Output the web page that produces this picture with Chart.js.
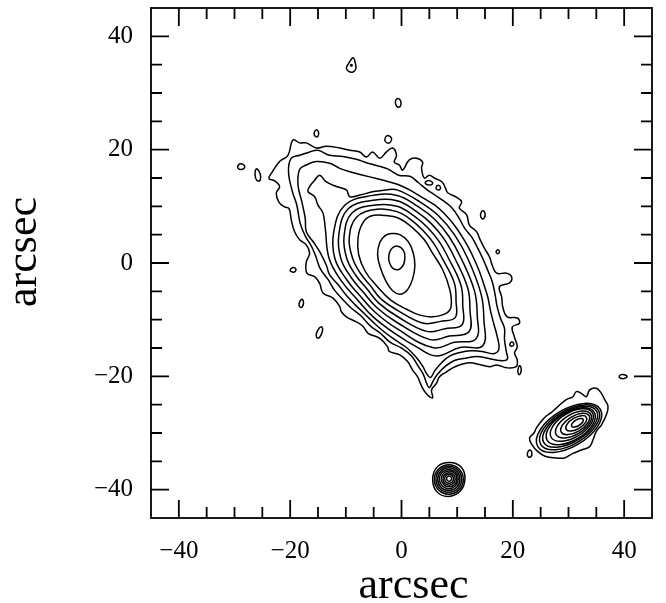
<!DOCTYPE html>
<html>
<head>
<meta charset="utf-8">
<title>arcsec contour map</title>
<script src="https://cdn.jsdelivr.net/npm/chart.js@4.4.1/dist/chart.umd.min.js"></script>
<style>
  html, body { margin: 0; padding: 0; background: #fff; }
  canvas { display: block; }
</style>
</head>
<body>
<canvas id="contourChart" width="666" height="603"></canvas>
<script>
// Axis range and tick values (arcsec)
const axisMin = -45;
const axisMax = 45;
const majorTickValues = [-40, -20, 0, 20, 40];
const minorTickValues = [-40, -35, -30, -25, -20, -15, -10, -5, 0, 5, 10, 15, 20, 25, 30, 35, 40];
const axisTitle = 'arcsec';

// Main galaxy, outermost level first (x, y in arcsec)
const galaxy1 = [[-19.5,21.7],[-18.3,21.2],[-17.1,21.2],[-15.3,20.3],[-13.5,20.6],[-11.1,20.3],[-9.3,19.9],[-7.5,19.6],[-6.3,18.7],[-5.2,19.6],[-3.9,18.5],[-2.7,19.6],[-1.6,20.3],[-0.9,19.0],[-1.3,17.8],[-0.4,17.3],[0.2,16.4],[1.4,18.2],[2.7,18.5],[3.8,17.8],[3.6,16.8],[4.1,15.0],[5.0,15.5],[5.9,15.0],[7.3,14.3],[7.9,13.2],[8.3,12.4],[9.9,11.6],[10.8,10.8],[10.4,9.7],[11.7,8.5],[12.2,6.7],[13.5,5.5],[14.0,4.4],[14.9,2.6],[15.8,1.1],[16.3,-0.4],[17.1,-1.8],[18.9,-1.8],[19.8,-2.5],[19.4,-3.5],[17.6,-4.2],[18.0,-6.0],[18.2,-7.8],[19.0,-9.5],[20.8,-9.7],[21.2,-10.6],[19.9,-11.3],[20.3,-13.1],[20.8,-14.8],[20.3,-15.9],[20.8,-17.1],[20.6,-18.3],[18.9,-18.5],[17.1,-18.0],[15.8,-18.3],[14.0,-17.9],[12.2,-17.6],[10.4,-18.0],[9.2,-18.5],[8.1,-19.2],[6.8,-20.1],[6.3,-21.2],[5.4,-22.4],[5.6,-23.8],[4.4,-23.0],[3.5,-21.5],[2.9,-20.1],[2.0,-18.9],[1.1,-17.4],[-0.3,-16.2],[-2.2,-15.6],[-2.5,-14.8],[-3.9,-13.3],[-6.0,-12.4],[-6.9,-11.2],[-8.1,-10.4],[-9.9,-9.5],[-10.8,-8.6],[-11.1,-7.7],[-12.3,-6.2],[-14.1,-5.3],[-14.7,-3.6],[-15.6,-2.4],[-17.0,-1.8],[-17.1,0.2],[-16.5,1.7],[-17.1,3.2],[-18.3,4.1],[-19.2,5.5],[-19.8,7.6],[-20.2,9.6],[-21.0,9.9],[-22.0,10.7],[-22.5,12.3],[-21.9,13.5],[-22.8,14.5],[-23.8,14.9],[-23.4,15.8],[-21.9,17.9],[-20.4,19.0]];
const galaxy2 = [[-19.8,18.5],[-18.3,19.0],[-16.5,19.6],[-15.0,19.9],[-12.9,19.0],[-10.5,18.8],[-8.1,18.3],[-6.3,17.7],[-4.5,17.2],[-2.5,16.6],[-0.5,15.5],[1.5,15.3],[3.0,14.2],[4.5,13.0],[6.0,12.0],[7.5,11.0],[9.0,9.8],[10.3,8.0],[11.3,6.2],[12.6,4.6],[13.6,2.8],[14.6,0.8],[15.5,-1.3],[16.3,-3.3],[16.8,-5.5],[17.2,-7.8],[17.8,-9.8],[18.5,-11.5],[18.5,-13.5],[18.8,-15.5],[19.0,-17.0],[17.5,-17.2],[15.5,-16.8],[13.5,-16.5],[11.5,-16.8],[9.5,-17.2],[7.8,-18.3],[6.5,-19.6],[5.7,-20.8],[5.0,-22.0],[4.5,-21.2],[3.9,-19.6],[3.0,-18.2],[1.8,-16.4],[0.0,-15.0],[-2.0,-14.0],[-3.8,-12.4],[-5.6,-11.1],[-7.3,-9.3],[-9.1,-7.9],[-10.6,-6.4],[-12.1,-4.7],[-13.2,-2.9],[-14.6,-1.0],[-15.4,1.2],[-16.2,3.0],[-17.3,4.8],[-18.2,7.0],[-18.8,10.2],[-19.6,12.6],[-20.3,16.1]];
const galaxy3 = [[-18.3,16.5],[-17.1,17.3],[-15.3,17.9],[-12.9,17.6],[-11.1,16.7],[-9.3,16.1],[-6.9,15.5],[-4.5,14.9],[-2.2,14.3],[0.0,13.6],[2.0,12.6],[4.0,11.4],[6.0,10.2],[7.8,8.6],[9.4,6.8],[10.8,4.8],[12.0,2.8],[13.0,0.8],[14.0,-1.5],[14.8,-3.8],[15.5,-6.0],[16.0,-8.5],[16.6,-10.8],[17.2,-13.0],[17.5,-15.2],[16.5,-16.0],[14.5,-15.6],[12.5,-15.5],[10.5,-15.8],[8.7,-16.4],[7.2,-17.6],[6.0,-19.0],[5.2,-20.2],[4.5,-19.5],[3.8,-18.2],[2.6,-16.6],[1.0,-15.0],[-0.8,-13.8],[-2.8,-12.4],[-4.7,-10.8],[-6.6,-9.0],[-8.4,-7.3],[-10.0,-5.6],[-11.4,-3.8],[-12.9,-2.1],[-13.5,-0.4],[-14.7,2.0],[-15.9,3.8],[-17.1,5.5],[-17.3,7.9],[-17.9,10.8],[-18.6,13.8]];
const galaxy4 = [[-14.7,15.5],[-13.5,14.3],[-11.7,13.5],[-9.9,12.9],[-9.3,11.7],[-7.5,12.0],[-5.0,12.6],[-2.8,12.9],[-0.8,12.9],[3.3,10.8],[6.7,8.3],[9.5,5.0],[11.9,0.8],[14.3,-5.5],[14.8,-10.0],[14.6,-14.6],[10.5,-14.9],[6.3,-16.4],[2.7,-14.8],[-0.8,-12.7],[-5.1,-9.5],[-8.0,-6.4],[-10.7,-3.3],[-13.0,0.8],[-13.7,6.2],[-14.1,8.8],[-15.0,10.2],[-15.6,11.7],[-16.8,12.6],[-16.5,13.5],[-15.6,14.6]];
const galaxy5 = [[-0.8,11.93],[3.0,9.95],[6.04,7.64],[8.53,4.67],[10.73,0.8],[13.12,-4.97],[13.6,-9.2],[13.39,-13.39],[9.5,-14.0],[5.74,-14.97],[-0.8,-11.6],[-4.73,-8.69],[-7.42,-5.82],[-9.84,-2.95],[-11.97,0.8],[-12.17,5.51],[-10.2,10.2],[-5.4,11.89]];
const galaxy6 = [[-0.8,10.98],[2.65,9.12],[5.35,6.95],[7.61,4.29],[9.6,0.8],[11.91,-4.47],[12.3,-8.3],[12.14,-12.14],[8.6,-12.9],[5.14,-13.52],[-0.8,-10.5],[-4.4,-7.89],[-6.81,-5.21],[-9.01,-2.6],[-10.9,0.8],[-11.24,5.13],[-9.57,9.57],[-5.05,11.06]];
const galaxy7 = [[-0.8,10.02],[2.3,8.28],[4.67,6.27],[6.68,3.9],[8.47,0.8],[10.69,-3.96],[11.0,-7.5],[10.89,-10.89],[7.8,-11.6],[4.54,-12.07],[-0.8,-9.4],[-4.07,-7.08],[-6.19,-4.59],[-8.16,-2.25],[-9.83,0.8],[-10.32,4.74],[-8.86,8.86],[-4.71,10.22]];
const galaxy8 = [[-0.8,9.06],[1.96,7.45],[3.99,5.59],[5.76,3.52],[7.33,0.8],[9.47,-3.46],[9.8,-6.8],[9.64,-9.64],[7.0,-10.3],[3.94,-10.63],[-0.8,-8.3],[-3.74,-6.29],[-5.59,-3.99],[-7.32,-1.9],[-8.77,0.8],[-9.39,4.36],[-8.08,8.08],[-4.4,9.49]];
const galaxy9 = [[4.1,4.1],[5.6,1.7],[7.4,-1.2],[8.7,-4.8],[8.9,-7.7],[8.0,-8.9],[5.6,-9.5],[3.3,-9.2],[1.0,-8.2],[-2.0,-6.5],[-4.5,-4.0],[-6.5,-1.5],[-7.7,1.5],[-7.8,4.5],[-7.0,7.0],[-5.5,8.3],[-3.0,8.4],[-0.5,7.9],[2.0,6.2]];
const galaxy10 = [[-1.8,5.2],[-0.3,5.0],[1.2,3.8],[2.1,1.8],[2.4,-0.5],[2.0,-2.8],[1.0,-4.8],[-0.3,-5.5],[-1.6,-4.9],[-2.8,-3.2],[-3.8,-0.8],[-4.3,1.5],[-3.9,3.6],[-3.0,4.8]];
const galaxy11 = [[-0.9,3.0],[-0.1,2.7],[0.5,1.9],[0.6,0.9],[0.4,-0.2],[-0.2,-1.0],[-0.9,-1.2],[-1.6,-0.9],[-2.1,-0.1],[-2.3,0.9],[-2.1,2.0],[-1.6,2.7]];

// Companion galaxy at lower right, innermost level first
const companion1 = [[32.64,-27.6],[32.14,-27.44],[31.33,-27.72],[30.67,-28.29],[30.56,-28.8],[31.06,-28.96],[31.88,-28.68],[32.53,-28.11]];
const companion2 = [[33.22,-27.25],[32.33,-26.94],[30.9,-27.43],[29.76,-28.43],[29.58,-29.35],[30.47,-29.66],[31.9,-29.17],[33.04,-28.17]];
const companion3 = [[33.71,-26.95],[32.48,-26.52],[30.5,-27.19],[28.93,-28.57],[28.69,-29.85],[29.92,-30.28],[31.9,-29.61],[33.47,-28.23]];
const companion4 = [[34.02,-26.7],[32.47,-26.12],[30.0,-26.94],[28.06,-28.67],[27.78,-30.3],[29.33,-30.88],[31.8,-30.06],[33.74,-28.33]];
const companion5 = [[34.32,-26.45],[32.45,-25.73],[29.5,-26.69],[27.19,-28.78],[26.88,-30.75],[28.75,-31.47],[31.7,-30.51],[34.01,-28.42]];
const companion6 = [[34.64,-26.35],[32.51,-25.53],[29.15,-26.63],[26.52,-29.0],[26.16,-31.25],[28.29,-32.07],[31.65,-30.97],[34.28,-28.6]];
const companion7 = [[35.06,-26.15],[32.71,-25.3],[28.95,-26.56],[25.98,-29.2],[25.54,-31.65],[27.89,-32.5],[31.65,-31.24],[34.62,-28.6]];
const companion8 = [[35.4,-26.0],[32.81,-25.04],[28.7,-26.4],[25.47,-29.29],[25.0,-32.0],[27.59,-32.96],[31.7,-31.6],[34.93,-28.71]];
const companion9 = [[35.73,-25.85],[32.91,-24.78],[28.45,-26.24],[24.95,-29.38],[24.47,-32.35],[27.29,-33.42],[31.75,-31.96],[35.25,-28.82]];
const companion10 = [[26.9,-26.4],[27.8,-25.6],[29.6,-24.1],[30.8,-23.6],[31.4,-22.7],[32.3,-23.0],[33.2,-23.6],[33.8,-22.4],[35.0,-22.1],[35.9,-23.0],[36.5,-24.1],[37.1,-25.3],[36.8,-26.8],[35.9,-28.6],[35.0,-29.7],[34.4,-31.2],[33.8,-32.4],[32.3,-33.0],[30.8,-33.6],[29.3,-34.4],[27.8,-34.4],[25.8,-34.1],[24.4,-33.2],[23.4,-32.0],[23.0,-30.9],[23.8,-30.0],[24.2,-29.2],[24.9,-28.2],[25.9,-27.1]];

// Star near the bottom, innermost level first
const star1 = [[9.0,-38.05],[8.87,-37.73],[8.55,-37.6],[8.23,-37.73],[8.1,-38.05],[8.23,-38.37],[8.55,-38.5],[8.87,-38.37]];
const star2 = [[9.35,-38.08],[9.12,-37.51],[8.55,-37.28],[7.98,-37.51],[7.75,-38.08],[7.98,-38.65],[8.55,-38.88],[9.12,-38.65]];
const star3 = [[9.65,-38.1],[9.33,-37.32],[8.55,-37.0],[7.77,-37.32],[7.45,-38.1],[7.77,-38.88],[8.55,-39.2],[9.33,-38.88]];
const star4 = [[9.95,-38.1],[9.54,-37.11],[8.55,-36.7],[7.56,-37.11],[7.15,-38.1],[7.56,-39.09],[8.55,-39.5],[9.54,-39.09]];
const star5 = [[10.2,-38.12],[9.7,-36.92],[8.5,-36.42],[7.3,-36.92],[6.8,-38.12],[7.3,-39.32],[8.5,-39.82],[9.7,-39.32]];
const star6 = [[10.5,-38.15],[9.91,-36.74],[8.5,-36.15],[7.09,-36.74],[6.5,-38.15],[7.09,-39.56],[8.5,-40.15],[9.91,-39.56]];
const star7 = [[10.8,-38.15],[10.13,-36.52],[8.5,-35.85],[6.87,-36.52],[6.2,-38.15],[6.87,-39.78],[8.5,-40.45],[10.13,-39.78]];
const star8 = [[11.1,-38.2],[10.34,-36.36],[8.5,-35.6],[6.66,-36.36],[5.9,-38.2],[6.66,-40.04],[8.5,-40.8],[10.34,-40.04]];
const star9 = [[11.4,-38.0],[10.7,-36.0],[8.7,-35.2],[6.5,-35.9],[5.6,-38.0],[6.3,-40.3],[8.4,-41.2],[10.6,-40.2]];

// Small isolated knots
const knotTop = [[-8.7,36.2],[-8.3,35.3],[-8.2,34.3],[-8.7,33.7],[-9.5,33.8],[-9.9,34.4],[-9.5,35.2]];
const knotTopDot = [[-8.85,34.9],[-9.0,35.05],[-9.15,34.9],[-9.0,34.75]];
const knotA = [[-0.8,29.0],[-0.2,28.7],[-0.1,28.0],[-0.4,27.5],[-0.9,27.7],[-1.1,28.4]];
const knotB = [[-2.4,22.5],[-1.8,22.0],[-2.0,21.3],[-2.6,21.2],[-3.0,21.7],[-2.8,22.3]];
const knotC = [[-15.3,23.5],[-14.9,23.1],[-15.0,22.4],[-15.4,22.3],[-15.7,22.8]];
const knotD = [[-28.8,17.5],[-28.2,17.2],[-28.3,16.7],[-28.9,16.5],[-29.4,16.8],[-29.3,17.3]];
const knotE = [[-26.1,16.6],[-25.6,16.2],[-25.3,15.2],[-25.5,14.5],[-26.0,14.6],[-26.3,15.5]];
const knotF = [[-19.5,-0.8],[-19.0,-1.0],[-19.1,-1.5],[-19.6,-1.6],[-20.0,-1.3]];
const knotG = [[-17.9,-6.4],[-17.6,-6.9],[-17.8,-7.7],[-18.2,-7.8],[-18.4,-7.2]];
const knotH = [[-14.3,-11.3],[-14.2,-12.0],[-14.7,-13.1],[-15.2,-13.2],[-15.3,-12.5],[-14.8,-11.5]];
const knotI = [[4.3,14.3],[4.85,14.55],[5.5,14.3],[5.55,13.95],[5.0,13.75],[4.35,13.95]];
const knotJ = [[6.6,13.7],[7.0,13.35],[6.85,12.95],[6.4,12.95],[6.2,13.3]];
const knotK = [[14.6,9.2],[15.0,8.8],[14.9,8.0],[14.5,7.8],[14.2,8.3],[14.3,8.9]];
const knotL = [[17.3,2.35],[17.6,2.0],[17.3,1.65],[17.0,2.0]];
const knotM = [[19.8,-13.95],[20.15,-14.2],[20.05,-14.6],[19.6,-14.65],[19.45,-14.35]];
const knotN = [[21.2,-18.1],[21.5,-18.6],[21.4,-19.4],[21.1,-19.7],[20.9,-19.2],[21.0,-18.5]];
const knotO = [[39.1,-20.0],[39.5,-19.7],[40.3,-19.8],[40.5,-20.1],[40.0,-20.4],[39.3,-20.3]];
const knotP = [[23.0,-33.0],[23.4,-33.4],[23.3,-34.1],[22.8,-34.2],[22.6,-33.7]];

const contours = [
  galaxy1, galaxy2, galaxy3, galaxy4, galaxy5, galaxy6, galaxy7, galaxy8, galaxy9, galaxy10, galaxy11,
  companion1, companion2, companion3, companion4, companion5, companion6, companion7, companion8, companion9, companion10,
  star1, star2, star3, star4, star5, star6, star7, star8, star9,
  knotTop, knotTopDot, knotA, knotB, knotC, knotD, knotE, knotF, knotG, knotH, knotI, knotJ, knotK, knotL, knotM, knotN, knotO, knotP
];

const TEXT_FONT = 'Liberation Serif';

// minus sign like the original plot
function formatTick(value) {
  return value < 0 ? '\u2212' + Math.abs(value) : String(value);
}

// contours are closed curves: make the line element join its last point back to the first
const closeContours = {
  id: 'closeContours',
  beforeDatasetsDraw(chart) {
    chart.getSortedVisibleDatasetMetas().forEach(meta => {
      const line = meta.dataset;
      if (!line) return;
      line._loop = true;
      line._fullLoop = true;
      line._pointsUpdated = false;
      delete line._segments;
      line._path = undefined;
    });
  }
};

// box around the plot with inward ticks on all four sides, plus the axis titles
const frameAndTicks = {
  id: 'frameAndTicks',
  afterDraw(chart) {
    const {ctx, chartArea: a, scales: {x, y}} = chart;
    ctx.save();
    ctx.strokeStyle = '#000';
    ctx.lineWidth = 1.8;
    ctx.strokeRect(a.left, a.top, a.right - a.left, a.bottom - a.top);
    ctx.beginPath();
    minorTickValues.forEach(v => {
      const len = majorTickValues.includes(v) ? 18 : 11;
      const px = x.getPixelForValue(v);
      const py = y.getPixelForValue(v);
      ctx.moveTo(px, a.bottom); ctx.lineTo(px, a.bottom - len);
      ctx.moveTo(px, a.top); ctx.lineTo(px, a.top + len);
      ctx.moveTo(a.left, py); ctx.lineTo(a.left + len, py);
      ctx.moveTo(a.right, py); ctx.lineTo(a.right - len, py);
    });
    ctx.stroke();

    // titles sit a little off-centre in the original
    ctx.fillStyle = '#000';
    ctx.font = '44px "' + TEXT_FONT + '"';
    ctx.textAlign = 'center';
    ctx.textBaseline = 'alphabetic';
    ctx.fillText(axisTitle, (a.left + a.right) / 2 + 12, a.bottom + 80);
    ctx.translate(a.left - 115, (a.top + a.bottom) / 2 - 11);
    ctx.rotate(-Math.PI / 2);
    ctx.fillText(axisTitle, 0, 0);
    ctx.restore();
  }
};

const ctx = document.getElementById('contourChart').getContext('2d');

new Chart(ctx, {
  type: 'line',
  data: {
    datasets: contours.map(c => ({
      data: c.map(([x, y]) => ({x, y})),
      borderColor: '#000',
      borderWidth: 1.5,
      pointRadius: 0,
      tension: 0.4,
      fill: false
    }))
  },
  options: {
    responsive: false,
    animation: false,
    devicePixelRatio: 1,
    events: [],
    layout: { padding: { top: 8, right: 14, left: 0, bottom: 0 } },
    plugins: { legend: { display: false }, tooltip: { enabled: false } },
    scales: {
      x: {
        type: 'linear',
        min: axisMin,
        max: axisMax,
        afterFit: scale => {
          scale.height = 85;
          scale.paddingLeft = 0;
          scale.paddingRight = 0;
        },
        grid: { display: false, drawTicks: false },
        border: { display: false },
        ticks: {
          stepSize: 20,
          includeBounds: false,
          autoSkip: false,
          maxRotation: 0,
          padding: 18,
          color: '#000',
          font: { family: TEXT_FONT, size: 25 },
          callback: formatTick
        }
      },
      y: {
        type: 'linear',
        min: axisMin,
        max: axisMax,
        afterFit: scale => {
          scale.width = 151;
          scale.paddingTop = 0;
          scale.paddingBottom = 0;
        },
        grid: { display: false, drawTicks: false },
        border: { display: false },
        ticks: {
          stepSize: 20,
          includeBounds: false,
          autoSkip: false,
          padding: 18,
          color: '#000',
          font: { family: TEXT_FONT, size: 25 },
          callback: formatTick
        }
      }
    }
  },
  plugins: [closeContours, frameAndTicks]
});
</script>
</body>
</html>
